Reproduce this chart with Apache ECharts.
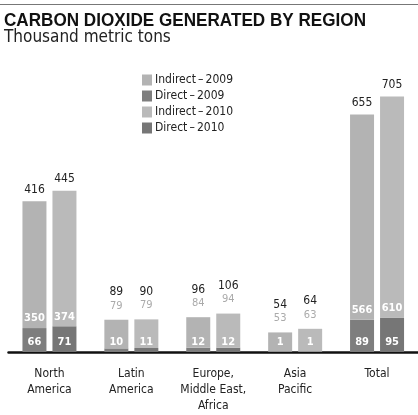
<!DOCTYPE html>
<html>
<head>
<meta charset="utf-8">
<script src="https://cdn.jsdelivr.net/npm/echarts@6/dist/echarts.min.js"></script>
<style>html,body{margin:0;padding:0;background:#fff}#c{width:418px;height:415px}</style>
</head>
<body>
<div id="c"></div>
<script>
const categories = ['North\nAmerica', 'Latin\nAmerica', 'Europe,\nMiddle East,\nAfrica', 'Asia\nPacific', 'Total'];
const direct2009 = [66, 10, 12, 1, 89];
const indirect2009 = [350, 79, 84, 53, 566];
const direct2010 = [71, 11, 12, 1, 95];
const indirect2010 = [374, 79, 94, 63, 610];
const total2009 = [416, 89, 96, 54, 655];
const total2010 = [445, 90, 106, 64, 705];
const legendNames = ['Indirect\u2009\u2013\u20092009', 'Direct\u2009\u2013\u20092009', 'Indirect\u2009\u2013\u20092010', 'Direct\u2009\u2013\u20092010'];
const titleText = 'CARBON DIOXIDE GENERATED BY REGION';
const subtitleText = 'Thousand metric tons';

const FONT = "'Liberation Sans Narrow', 'DejaVu Sans Condensed', 'Roboto', sans-serif";
const TITLE_FONT = "bold 19px 'Liberation Sans', 'Roboto', sans-serif";
const BIG = 200;

// fit title width to the reference's span
const mctx = document.createElement('canvas').getContext('2d');
mctx.font = TITLE_FONT;
const titleScale = 362 / mctx.measureText(titleText).width;

function indirectData(arr) {
  return arr.map(v => ({
    value: v,
    label: v > BIG ? {show: true, position: 'insideBottom', distance: 4, color: '#fff', fontSize: 11, fontWeight: 'bold', fontFamily: FONT} : {show: false}
  }));
}
function totalSeries(stack, totals, indirect) {
  return {
    name: 'tot' + stack, type: 'bar', stack: stack, barWidth: 24,
    data: totals.map(() => 0),
    itemStyle: {color: 'rgba(0,0,0,0)'},
    silent: true,
    label: {
      show: true, position: 'top', distance: 3, fontFamily: FONT,
      formatter: p => indirect[p.dataIndex] > BIG ? '{t|' + totals[p.dataIndex] + '}' : '{t|' + totals[p.dataIndex] + '}\n{i|' + indirect[p.dataIndex] + '}',
      rich: {
        t: {fontSize: 12, color: '#222', lineHeight: 17, fontFamily: FONT},
        i: {fontSize: 11, color: '#aaa', lineHeight: 16, fontFamily: FONT, padding: [0,0,6,0]}
      }
    }
  };
}
const directLabel = {show: true, position: 'insideBottom', distance: 4, color: '#fff', fontSize: 11, fontWeight: 'bold', fontFamily: FONT};

const chart = echarts.init(document.getElementById('c'), null, {renderer: 'canvas'});
chart.setOption({
  animation: false,
  backgroundColor: '#fff',
  graphic: [
    {type: 'line', shape: {x1: 0, y1: 4.5, x2: 418, y2: 4.5}, style: {stroke: '#777', lineWidth: 1}},
    {type: 'text', x: 4, y: 11, scaleX: titleScale, style: {text: titleText, font: TITLE_FONT, fill: '#111'}},
    {type: 'text', x: 4, y: 29, style: {text: subtitleText, font: "17px " + FONT, fill: '#222'}}
  ],
  legend: {
    data: legendNames, orient: 'vertical', left: 137, top: 69, itemWidth: 10, itemHeight: 11, itemGap: 4,
    icon: 'rect', textStyle: {fontSize: 12, color: '#222', fontFamily: FONT, padding: [0,0,0,-2]}
  },
  grid: {left: 8.5, right: -24.5, top: 62, bottom: 63, containLabel: false},
  xAxis: {
    type: 'category', data: categories,
    axisLine: {lineStyle: {color: '#111', width: 2.5}},
    axisTick: {show: false},
    axisLabel: {fontSize: 12, color: '#222', fontFamily: FONT, lineHeight: 16, margin: 14, interval: 0}
  },
  yAxis: {type: 'value', min: 0, max: 800, show: false},
  series: [
    {name: legendNames[1], type: 'bar', stack: '2009', barWidth: 24, barGap: '25%', data: direct2009, itemStyle: {color: '#7e7e7e'}, label: directLabel},
    {name: legendNames[0], type: 'bar', stack: '2009', barWidth: 24, data: indirectData(indirect2009), itemStyle: {color: '#b3b3b3'}},
    totalSeries('2009', total2009, indirect2009),
    {name: legendNames[3], type: 'bar', stack: '2010', barWidth: 24, data: direct2010, itemStyle: {color: '#767676'}, label: directLabel},
    {name: legendNames[2], type: 'bar', stack: '2010', barWidth: 24, data: indirectData(indirect2010), itemStyle: {color: '#bababa'}},
    totalSeries('2010', total2010, indirect2010)
  ]
});
</script>
</body>
</html>
